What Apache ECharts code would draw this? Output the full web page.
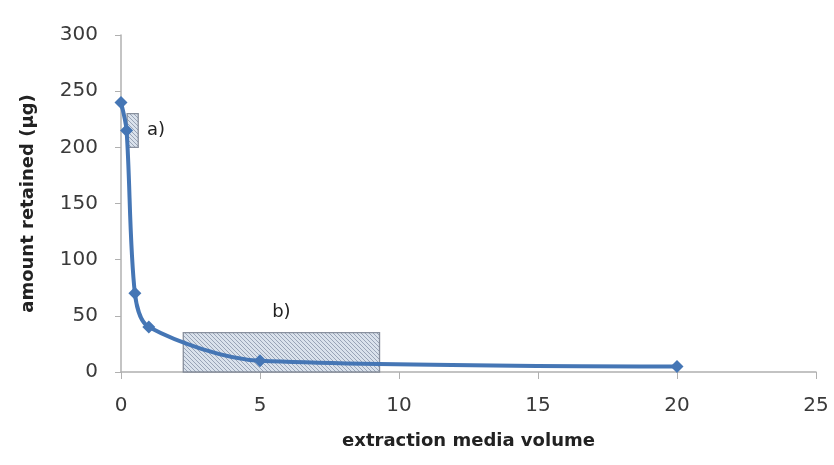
<!DOCTYPE html>
<html><head><meta charset="utf-8">
<script src="https://cdn.jsdelivr.net/npm/echarts@6/dist/echarts.min.js"></script>
<style>html,body{margin:0;padding:0;background:#fff}#c{width:834px;height:465px}</style>
</head><body><div id="c"></div>
<script>
const volumes = [0, 0.2, 0.5, 1, 5, 20];
const retained = [240, 215, 70, 40, 10, 5];
const xTicks = [0, 5, 10, 15, 20, 25];
const yTicks = [0, 50, 100, 150, 200, 250, 300];
const boxA = { label: 'a)', x: [0.22, 0.62], y: [200, 230] };
const boxB = { label: 'b)', x: [2.24, 9.3], y: [0, 35] };

function hatch() {
  const c = document.createElement('canvas');
  c.width = 4; c.height = 4;
  const g = c.getContext('2d');
  g.fillStyle = '#d6dfea'; g.fillRect(0, 0, 4, 4);
  g.strokeStyle = '#8e9bb0'; g.lineWidth = 1;
  g.beginPath(); g.moveTo(0, 0); g.lineTo(4, 4); g.moveTo(-2, 2); g.lineTo(2, 6); g.moveTo(2, -2); g.lineTo(6, 2); g.stroke();
  return c;
}
const pat = { image: hatch(), repeat: 'repeat' };
const font = 'DejaVu Sans';
const chart = echarts.init(document.getElementById('c'));
chart.setOption({
  animation: false,
  grid: { left: 121, right: 18, top: 35, bottom: 93 },
  xAxis: {
    type: 'value', min: 0, max: 25, interval: 5,
    name: 'extraction media volume', nameLocation: 'middle', nameGap: 60,
    nameTextStyle: { fontFamily: font, fontSize: 18, fontWeight: 'bold', color: '#222' },
    axisLine: { lineStyle: { color: '#b0b0b0', width: 1.5 } },
    axisTick: { show: true, length: 7, lineStyle: { color: '#b0b0b0' } },
    axisLabel: { fontFamily: font, fontSize: 20, color: '#3a3a3a', margin: 24, formatter: v => xTicks.includes(v) ? String(v) : '' },
    splitLine: { show: false }
  },
  yAxis: {
    type: 'value', min: 0, max: 300, interval: 50,
    name: 'amount retained (µg)', nameLocation: 'middle', nameGap: 84, nameRotate: 90,
    nameTextStyle: { fontFamily: font, fontSize: 18, fontWeight: 'bold', color: '#222' },
    axisLine: { show: true, lineStyle: { color: '#b0b0b0', width: 1.5 } },
    axisTick: { show: true, length: 6, lineStyle: { color: '#b0b0b0' } },
    axisLabel: { fontFamily: font, fontSize: 20, color: '#3a3a3a', margin: 23, formatter: v => yTicks.includes(v) ? String(v) : '' },
    splitLine: { show: false }
  },
  series: [{
    type: 'line',
    data: volumes.map((v, i) => [v, retained[i]]),
    smooth: 0.3,
    symbol: 'diamond', symbolSize: 13,
    lineStyle: { color: '#4576b5', width: 4 },
    itemStyle: { color: '#4576b5' },
    z: 3,
    markArea: {
      silent: true,
      itemStyle: { color: pat, borderColor: '#7d8594', borderWidth: 1.3, opacity: 0.9 },
      data: [
        [{ xAxis: boxA.x[0], yAxis: boxA.y[1], name: boxA.label,
           label: { show: true, position: 'right', distance: 8, color: '#222', fontFamily: font, fontSize: 18 } },
         { xAxis: boxA.x[1], yAxis: boxA.y[0] }],
        [{ xAxis: boxB.x[0], yAxis: boxB.y[1], name: boxB.label,
           label: { show: true, position: 'top', distance: 11, color: '#222', fontFamily: font, fontSize: 18 } },
         { xAxis: boxB.x[1], yAxis: boxB.y[0] }]
      ]
    }
  }]
});
</script></body></html>
